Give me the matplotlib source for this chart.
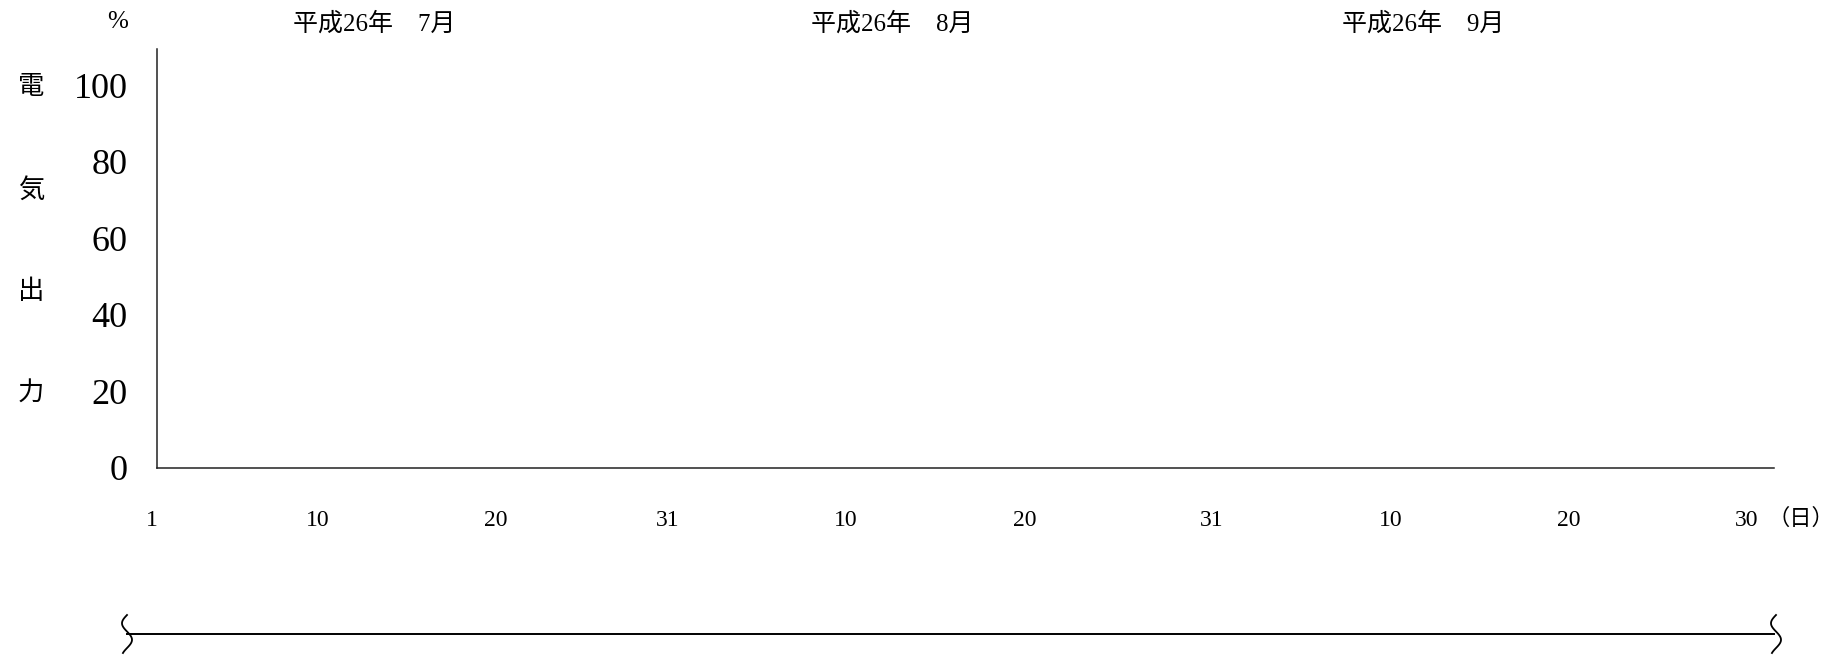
import matplotlib
matplotlib.use("Agg")
import matplotlib.pyplot as plt
import numpy as np
from matplotlib.lines import Line2D
from matplotlib.transforms import blended_transform_factory

# chart content
month_labels = ["平成26年\u30007月", "平成26年\u30008月", "平成26年\u30009月"]
day_ticks = [1, 10, 20, 31, 41, 51, 62, 72, 82, 92]
day_labels = ["1", "10", "20", "31", "10", "20", "31", "10", "20", "30"]
y_ticks = [0, 20, 40, 60, 80, 100]
y_title = ["電", "気", "出", "力"]

# layout (pixels of the 1839x658 canvas)
W, H = 1839, 658
day_label_px = [152, 318, 496, 668, 846, 1025, 1212, 1391, 1569, 1747]
month_x = [13.6, 43.3, 73.8]
y_title_y = [87.5, 190, 292, 394]

plt.rcParams["font.family"] = ["Liberation Serif", "Noto Sans CJK JP", "DejaVu Sans"]


def fx(px):
    return px / W


def fy(py):
    return 1 - py / H


fig = plt.figure(figsize=(W / 100, H / 100), dpi=100)
ax = fig.add_axes([fx(157), fy(468), fx(1774) - fx(157), fy(49) - fy(468)])
ax.set_xlim(1.15, 93.9)
ax.set_ylim(0, 109.5)
for s in ["top", "right"]:
    ax.spines[s].set_visible(False)
for s in ["left", "bottom"]:
    ax.spines[s].set_linewidth(1.1)
    ax.spines[s].set_color("#222222")
ax.set_xticks([])
ax.set_yticks(y_ticks)
ax.tick_params(axis="y", length=0, pad=21, labelsize=26)

# day labels under the axis (the original places them on even slots)
for px, lab in zip(day_label_px, day_labels):
    fig.text(fx(px), fy(526), lab, ha="center", va="baseline", fontsize=17)

# month labels above the plot
trans = blended_transform_factory(ax.transData, fig.transFigure)
for x, lab in zip(month_x, month_labels):
    ax.text(x, fy(24), lab, ha="center", va="center", fontsize=18,
            transform=trans, clip_on=False)

# unit texts
fig.text(fx(118), fy(22), "%", ha="center", va="center", fontsize=18)
fig.text(fx(1801), fy(519), "（日）", ha="center", va="center", fontsize=16)

# vertical axis title, one character per line
for ch, y in zip(y_title, y_title_y):
    fig.text(fx(31), fy(y), ch, ha="center", va="center", fontsize=19)

# break line with wavy marks at both ends
fig.add_artist(Line2D([fx(127), fx(1774)], [fy(634), fy(634)],
                      transform=fig.transFigure, color="black", lw=1.4))
t = np.linspace(0, 1, 60)
for cx in [127, 1776]:
    xs = cx - 5 * np.sin(2 * np.pi * 1.15 * t)
    ys = 615 + 38 * t
    fig.add_artist(Line2D(fx(xs), fy(ys), transform=fig.transFigure,
                          color="black", lw=1.3))

plt.savefig("out.png", dpi=100)
